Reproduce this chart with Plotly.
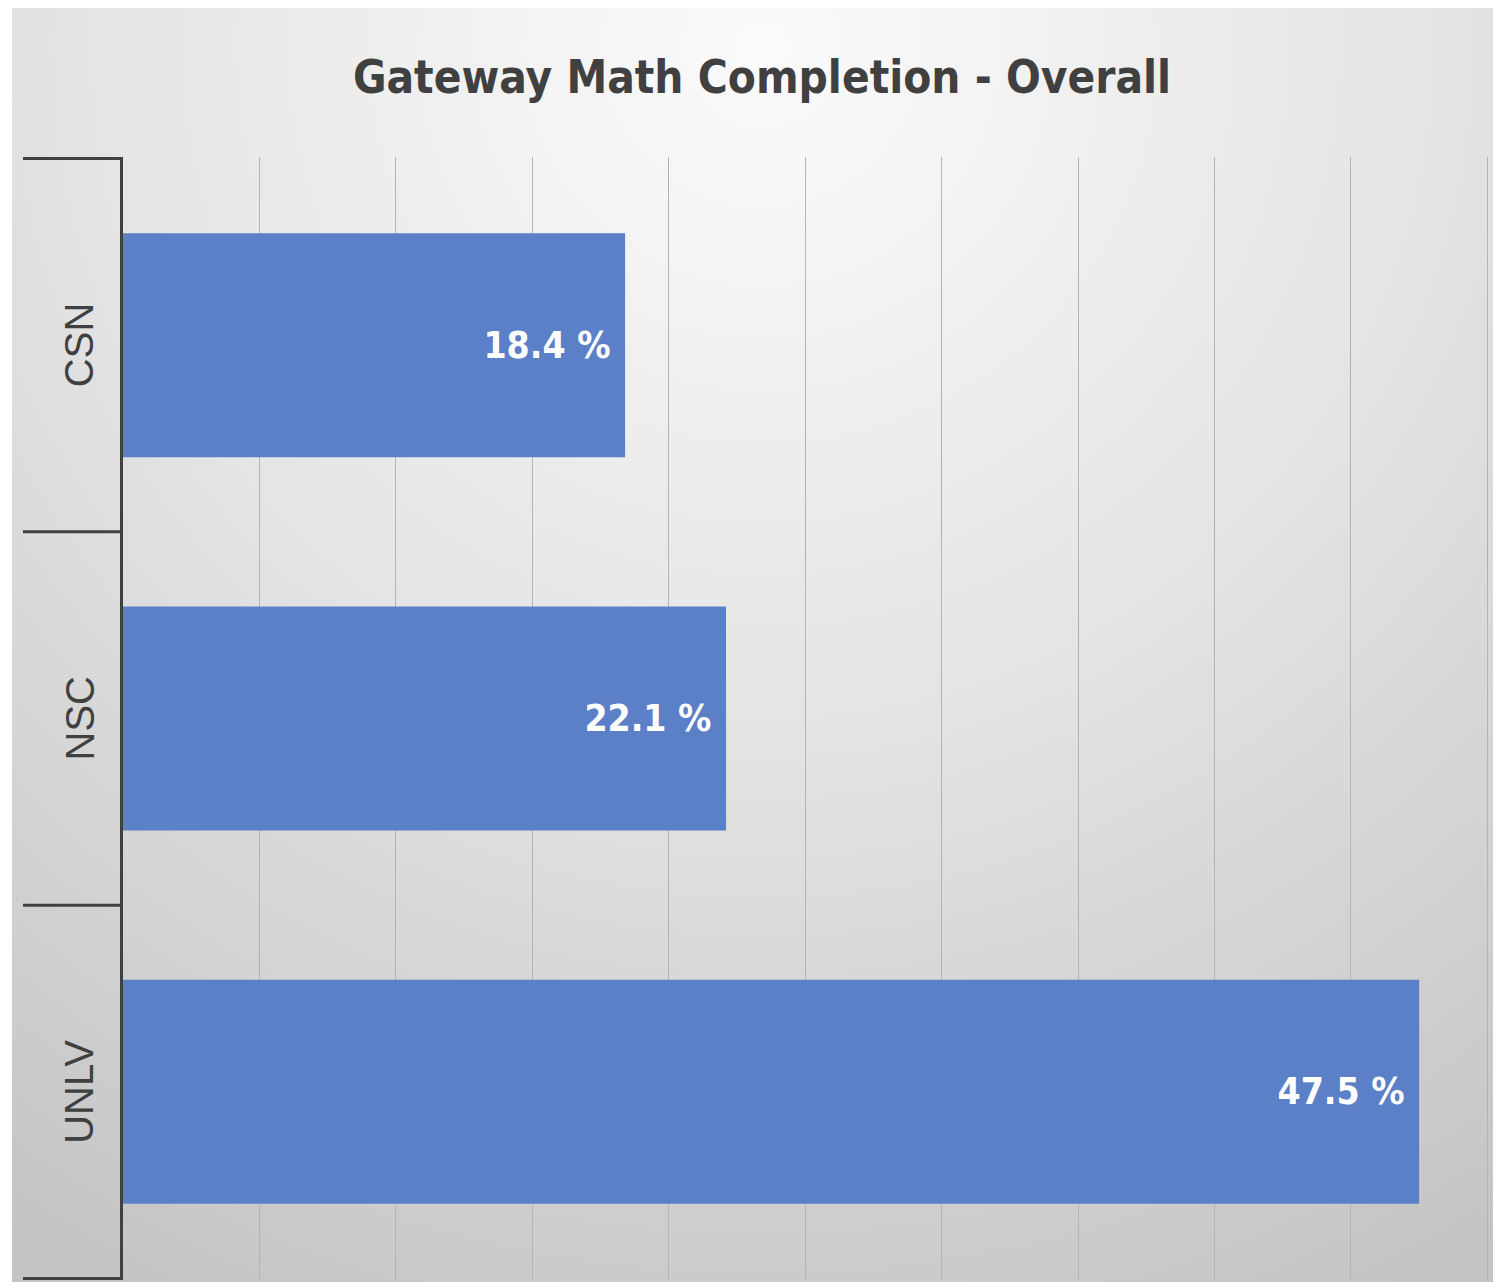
import base64

import plotly.graph_objects as go

schools = ["CSN", "NSC", "UNLV"]
completion = [18.4, 22.1, 47.5]
title_text = "Gateway Math Completion - Overall"

# the page body adds an 8px margin, so the figure is drawn 8px smaller
W, H = 1493, 1274
L, R, T, B = 115, 0, 149, 2
plot_w = W - L - R
plot_h = H - T - B

# soft radial grey background like the Excel chart area
svg = (
    '<svg xmlns="http://www.w3.org/2000/svg" width="1500" height="1274" '
    'viewBox="0 0 1500 1274" preserveAspectRatio="none">'
    '<defs><radialGradient id="g" gradientUnits="userSpaceOnUse" '
    'cx="750" cy="40" r="1400">'
    '<stop offset="0" stop-color="#fbfbfb"/>'
    '<stop offset="0.45" stop-color="#e6e6e6"/>'
    '<stop offset="1" stop-color="#c4c4c4"/>'
    '</radialGradient></defs>'
    '<rect x="0" y="0" width="1500" height="1274" fill="url(#g)"/></svg>'
)
bg_src = "data:image/svg+xml;base64," + base64.b64encode(svg.encode()).decode()

font_narrow = "DejaVu Sans Condensed, Liberation Sans Narrow, Arial"

fig = go.Figure(
    go.Bar(
        x=completion,
        y=schools,
        orientation="h",
        width=0.6,
        marker={"color": "#5b80c8", "line": {"width": 0}},
        text=[f"{v:.1f} %\u00a0" for v in completion],
        textposition="inside",
        insidetextanchor="end",
        textfont={"family": font_narrow, "size": 37, "color": "white", "weight": "bold"},
        cliponaxis=False,
        showlegend=False,
    )
)

fig.update_layout(
    width=W,
    height=H,
    margin={"l": L, "r": R, "t": T, "b": B, "pad": 0},
    paper_bgcolor="white",
    plot_bgcolor="rgba(0,0,0,0)",
    title={
        "text": title_text,
        "x": (762 - 8) / W,
        "xref": "container",
        "xanchor": "center",
        "y": 1 - (77 - 8) / H,
        "yanchor": "middle",
        "font": {"family": font_narrow, "size": 45.5, "color": "#404040", "weight": "bold"},
    },
    xaxis={
        "range": [0, 50.5],
        "dtick": 5,
        "showgrid": True,
        "gridcolor": "#b4b4b4",
        "gridwidth": 1,
        "showticklabels": False,
        "zeroline": False,
        "showline": False,
        "ticks": "",
    },
    yaxis={
        "autorange": "reversed",
        "showticklabels": False,
        "showgrid": False,
        "showline": True,
        "linecolor": "#404040",
        "linewidth": 3,
        "ticks": "",
        "zeroline": False,
    },
    images=[
        {
            "source": bg_src,
            "xref": "paper",
            "yref": "paper",
            "x": (4 - L) / plot_w,
            "y": (H - B) / plot_h,
            "sizex": (W + 7) / plot_w,
            "sizey": H / plot_h,
            "xanchor": "left",
            "yanchor": "top",
            "sizing": "stretch",
            "layer": "below",
        }
    ],
)

# category boundary ticks reaching left into the label area
for b in [-0.5, 0.5, 1.5, 2.5]:
    fig.add_shape(
        type="line",
        xref="paper",
        yref="y",
        x0=(15 - L) / plot_w,
        x1=0,
        y0=b,
        y1=b,
        line={"color": "#404040", "width": 3},
    )

# rotated category labels
for s in schools:
    fig.add_annotation(
        x=(47 - L) / plot_w,
        xref="paper",
        y=s,
        yref="y",
        text=s,
        textangle=-90,
        showarrow=False,
        font={"family": "Liberation Sans, Arial", "size": 40, "color": "#404040"},
    )

fig.write_html("out.html")
